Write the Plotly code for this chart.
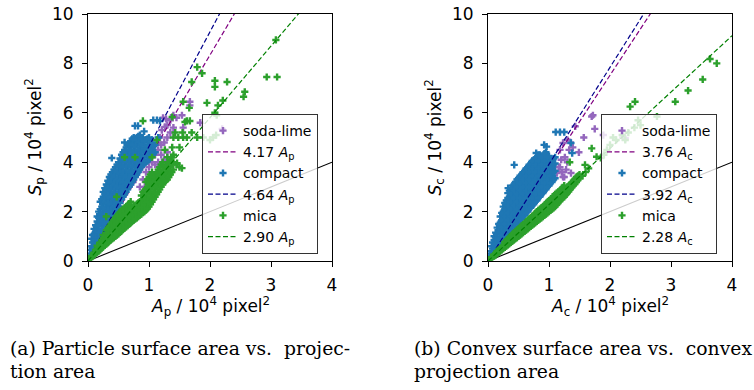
import plotly.graph_objects as go

W, H = 754, 390

# ---------------- data: panel (a) particle surface vs projection area ----------------
soda_a = [(0.74,3.2),(0.85,3.0),(0.93,3.0),(0.98,3.16),(0.9,3.3),(0.95,3.6),(1.0,3.8),(1.05,3.5),
          (1.05,4.0),(1.1,3.28),(1.1,3.9),(1.1,4.3),(1.15,3.55),(1.15,4.0),(1.15,4.5),(1.2,4.3),
          (1.2,4.7),(1.18,5.0),(1.13,4.78),(1.21,5.3),(1.26,5.43),(1.25,4.8),(1.3,5.0),(1.3,5.5),
          (1.35,5.2),(1.35,5.7),(1.4,5.9),(1.23,5.8),(1.28,5.75),(1.4,5.4),(1.45,5.8),(1.54,5.9),
          (1.56,5.4),(1.67,6.45),(1.67,6.3),(1.84,5.6),(2.2,5.35),(1.05,4.6),(1.3,4.4),(1.25,4.1),
          (1.0,2.9)]
compact_a = [(0.02,0.1),(0.03,0.2),(0.03,0.45),
             (0.06,0.3),(0.06,0.6),(0.06,0.9),
             (0.1,0.5),(0.1,0.8),(0.1,1.1),(0.1,1.3),
             (0.15,0.7),(0.15,1.0),(0.15,1.3),(0.15,1.6),(0.15,1.8),
             (0.2,0.9),(0.2,1.2),(0.2,1.5),(0.2,1.8),(0.2,2.1),(0.2,2.4),
             (0.25,1.1),(0.25,1.4),(0.25,1.7),(0.25,2.0),(0.25,2.3),(0.25,2.6),(0.25,2.8),
             (0.3,1.3),(0.3,1.6),(0.3,1.9),(0.3,2.2),(0.3,2.5),(0.3,2.8),(0.3,3.1),
             (0.35,1.6),(0.35,1.9),(0.35,2.2),(0.35,2.5),(0.35,2.8),(0.35,3.1),(0.35,3.4),
             (0.4,1.8),(0.4,2.1),(0.4,2.4),(0.4,2.7),(0.4,3.0),(0.4,3.3),(0.4,3.6),
             (0.45,2.0),(0.45,2.3),(0.45,2.6),(0.45,2.9),(0.45,3.2),(0.45,3.5),(0.45,3.8),
             (0.5,2.2),(0.5,2.5),(0.5,2.8),(0.5,3.1),(0.5,3.4),(0.5,3.7),(0.5,4.0),
             (0.55,2.5),(0.55,2.8),(0.55,3.1),(0.55,3.4),(0.55,3.7),(0.55,4.0),(0.55,4.3),
             (0.6,2.7),(0.6,3.0),(0.6,3.3),(0.6,3.6),(0.6,3.9),(0.6,4.2),(0.6,4.5),
             (0.65,2.9),(0.65,3.2),(0.65,3.5),(0.65,3.8),(0.65,4.1),(0.65,4.4),(0.65,4.7),
             (0.7,3.1),(0.7,3.4),(0.7,3.7),(0.7,4.0),(0.7,4.3),(0.7,4.6),(0.7,4.85),
             (0.75,3.3),(0.75,3.6),(0.75,3.9),(0.75,4.2),(0.75,4.5),(0.75,4.8),(0.75,5.0),
             (0.8,3.5),(0.8,3.8),(0.8,4.1),(0.8,4.4),(0.8,4.7),(0.8,5.0),
             (0.85,3.7),(0.85,4.0),(0.85,4.3),(0.85,4.6),(0.85,4.9),(0.85,5.1),
             (0.9,3.9),(0.9,4.2),(0.9,4.5),(0.9,4.8),(0.9,5.0),
             (0.95,4.0),(0.95,4.3),(0.95,4.6),(0.95,4.9),
             (1.0,4.1),(1.0,4.4),(1.0,4.7),(1.0,5.0),
             (1.05,4.3),(1.05,4.6),(1.05,4.9),
             (1.1,4.4),(1.1,4.7),
             (0.39,4.17),(0.6,4.8),(0.77,5.47),(0.82,5.47),(1.07,5.7),(1.13,5.7),(1.18,5.67),
             (0.92,5.25),(1.15,5.0)]
compact_a_fill = [(0.075,0.45),(0.075,0.75),(0.075,1.05),
                  (0.125,0.65),(0.125,0.95),(0.125,1.2),(0.125,1.45),
                  (0.175,0.85),(0.175,1.15),(0.175,1.45),(0.175,1.75),(0.175,2.0),
                  (0.225,1.0),(0.225,1.3),(0.225,1.6),(0.225,1.9),(0.225,2.2),(0.225,2.5),
                  (0.275,1.2),(0.275,1.5),(0.275,1.8),(0.275,2.1),(0.275,2.4),(0.275,2.7),(0.275,2.95),
                  (0.325,1.45),(0.325,1.75),(0.325,2.05),(0.325,2.35),(0.325,2.65),(0.325,2.95),(0.325,3.25),
                  (0.375,1.7),(0.375,2.0),(0.375,2.3),(0.375,2.6),(0.375,2.9),(0.375,3.2),(0.375,3.5),
                  (0.425,1.9),(0.425,2.2),(0.425,2.5),(0.425,2.8),(0.425,3.1),(0.425,3.4),(0.425,3.7),
                  (0.475,2.1),(0.475,2.4),(0.475,2.7),(0.475,3.0),(0.475,3.3),(0.475,3.6),(0.475,3.9),
                  (0.525,2.35),(0.525,2.65),(0.525,2.95),(0.525,3.25),(0.525,3.55),(0.525,3.85),(0.525,4.15),
                  (0.575,2.6),(0.575,2.9),(0.575,3.2),(0.575,3.5),(0.575,3.8),(0.575,4.1),(0.575,4.4),
                  (0.625,2.8),(0.625,3.1),(0.625,3.4),(0.625,3.7),(0.625,4.0),(0.625,4.3),(0.625,4.6),
                  (0.675,3.0),(0.675,3.3),(0.675,3.6),(0.675,3.9),(0.675,4.2),(0.675,4.5),(0.675,4.75),
                  (0.725,3.2),(0.725,3.5),(0.725,3.8),(0.725,4.1),(0.725,4.4),(0.725,4.7),(0.725,4.95),
                  (0.775,3.4),(0.775,3.7),(0.775,4.0),(0.775,4.3),(0.775,4.6),(0.775,4.9),
                  (0.825,3.6),(0.825,3.9),(0.825,4.2),(0.825,4.5),(0.825,4.8),(0.825,5.05),
                  (0.875,3.8),(0.875,4.1),(0.875,4.4),(0.875,4.7),(0.875,4.95),
                  (0.925,3.95),(0.925,4.25),(0.925,4.55),(0.925,4.85),
                  (0.975,4.05),(0.975,4.35),(0.975,4.65),(0.975,4.95),
                  (1.025,4.2),(1.025,4.5),(1.025,4.8),
                  (1.075,4.35),(1.075,4.65)]
mica_a = [(0.03,0.08),(0.05,0.12),(0.05,0.2),
          (0.1,0.25),(0.1,0.35),
          (0.15,0.35),(0.15,0.5),(0.15,0.62),
          (0.2,0.45),(0.2,0.6),(0.2,0.75),
          (0.25,0.58),(0.25,0.75),(0.25,0.92),(0.25,1.05),
          (0.3,0.68),(0.3,0.88),(0.3,1.08),(0.3,1.25),
          (0.35,0.8),(0.35,1.0),(0.35,1.2),(0.35,1.4),
          (0.4,0.9),(0.4,1.12),(0.4,1.35),(0.4,1.58),
          (0.45,1.0),(0.45,1.25),(0.45,1.5),(0.45,1.75),
          (0.5,1.1),(0.5,1.37),(0.5,1.64),(0.5,1.9),
          (0.55,1.22),(0.55,1.5),(0.55,1.78),(0.55,2.05),
          (0.6,1.33),(0.6,1.6),(0.6,1.88),(0.6,2.15),
          (0.65,1.43),(0.65,1.7),(0.65,1.97),(0.65,2.25),
          (0.7,1.55),(0.7,1.82),(0.7,2.1),(0.7,2.4),
          (0.75,1.65),(0.75,1.92),(0.75,2.2),
          (0.8,1.75),(0.8,2.02),(0.8,2.3),
          (0.85,1.86),(0.85,2.12),(0.85,2.4),
          (0.9,1.96),(0.9,2.22),(0.9,2.5),(0.9,2.8),
          (0.95,2.06),(0.95,2.32),(0.95,2.6),(0.95,2.9),(0.95,3.2),
          (1.0,2.2),(1.0,2.5),(1.0,2.8),(1.0,3.1),(1.0,3.4),
          (1.05,2.4),(1.05,2.7),(1.05,3.0),(1.05,3.3),(1.05,3.6),
          (1.1,2.6),(1.1,2.9),(1.1,3.2),(1.1,3.5),
          (1.15,2.8),(1.15,3.1),(1.15,3.4),(1.15,3.7),
          (1.2,3.0),(1.2,3.3),(1.2,3.6),(1.2,3.9),
          (1.25,3.2),(1.25,3.5),(1.25,3.8),
          (1.3,3.3),(1.3,3.6),(1.3,3.9),(1.3,4.2),
          (1.35,3.5),(1.35,3.8),(1.35,4.1),
          (1.4,3.7),(1.4,4.0),(1.4,4.3),
          (1.45,3.9),(1.46,3.96),(1.5,3.8),(1.54,3.76),
          (0.3,1.8),(0.47,2.6),(0.6,4.2),(0.77,4.2),(1.05,4.2),(1.26,4.5),(1.38,4.6),
          (0.9,5.67),(1.13,4.9),(1.4,5.0),(1.48,5.0),(1.56,5.0),(1.5,4.6),(1.62,5.0),(1.79,5.0),
          (1.89,5.0),(1.38,5.83),(1.59,5.63),(1.62,5.67),(1.67,5.67),(1.43,5.2),(1.55,5.2),
          (1.7,5.2),(1.56,6.45),(1.66,6.2),(1.7,7.25),(1.79,7.85),(1.87,7.6),(1.95,6.4),
          (2.08,7.3),(2.08,7.05),(2.13,6.3),(2.21,6.5),(2.28,7.25),(2.11,5.9),(2.57,6.85),
          (2.55,6.65),(2.93,7.45),(3.10,7.45),(3.08,8.95),(2.0,4.9),(2.05,5.0),(2.1,5.1),(2.08,6.0)]
mica_a_fill = [(0.125,0.3),(0.125,0.45),
               (0.175,0.4),(0.175,0.55),
               (0.225,0.52),(0.225,0.68),(0.225,0.85),
               (0.275,0.63),(0.275,0.82),(0.275,1.0),
               (0.325,0.74),(0.325,0.94),(0.325,1.14),(0.325,1.32),
               (0.375,0.85),(0.375,1.06),(0.375,1.28),(0.375,1.5),
               (0.425,0.95),(0.425,1.18),(0.425,1.42),(0.425,1.66),
               (0.475,1.05),(0.475,1.3),(0.475,1.57),(0.475,1.82),
               (0.525,1.16),(0.525,1.44),(0.525,1.71),(0.525,1.98),
               (0.575,1.28),(0.575,1.55),(0.575,1.83),(0.575,2.1),
               (0.625,1.38),(0.625,1.65),(0.625,1.92),(0.625,2.2),
               (0.675,1.49),(0.675,1.76),(0.675,2.03),(0.675,2.32),
               (0.725,1.6),(0.725,1.87),(0.725,2.15),
               (0.775,1.7),(0.775,1.97),(0.775,2.25),
               (0.825,1.8),(0.825,2.07),(0.825,2.35),
               (0.875,1.9),(0.875,2.17),(0.875,2.45),(0.875,2.65),
               (0.925,2.0),(0.925,2.27),(0.925,2.55),(0.925,2.85),
               (0.975,2.12),(0.975,2.4),(0.975,2.7),(0.975,3.0),(0.975,3.3),
               (1.025,2.3),(1.025,2.6),(1.025,2.9),(1.025,3.2),(1.025,3.5),
               (1.075,2.5),(1.075,2.8),(1.075,3.1),(1.075,3.4),
               (1.125,2.7),(1.125,3.0),(1.125,3.3),(1.125,3.6),
               (1.175,2.9),(1.175,3.2),(1.175,3.5),(1.175,3.8),
               (1.225,3.1),(1.225,3.4),(1.225,3.7),(1.225,4.0),
               (1.275,3.25),(1.275,3.55),(1.275,3.85),
               (1.325,3.4),(1.325,3.7),(1.325,4.0),
               (1.375,3.6),(1.375,3.9),(1.375,4.2)]

# ---------------- data: panel (b) convex surface vs convex projection area ----------------
soda_b = [(1.7,5.85),(1.72,5.9),(1.75,5.35),(1.89,5.1),(2.21,5.0),(2.25,4.97),(1.43,5.45),
          (1.16,3.8),(1.21,3.6),(1.25,3.4),(1.13,3.56),(1.23,3.4),(1.18,3.8),(1.49,4.4),
          (1.57,5.0),(1.18,4.5),(1.23,4.78),(1.3,4.9),(1.39,4.6),(1.26,4.2),(1.3,4.0),
          (1.33,4.5),(1.2,4.1),(1.28,3.7),(1.35,4.8),(1.36,3.56)]
compact_b = [(0.02,0.08),(0.03,0.15),(0.03,0.3),
             (0.06,0.2),(0.06,0.4),(0.06,0.6),
             (0.1,0.35),(0.1,0.6),(0.1,0.85),(0.1,1.0),
             (0.15,0.5),(0.15,0.8),(0.15,1.1),(0.15,1.35),
             (0.2,0.65),(0.2,0.95),(0.2,1.25),(0.2,1.55),(0.2,1.8),
             (0.25,0.8),(0.25,1.1),(0.25,1.4),(0.25,1.7),(0.25,2.0),(0.25,2.2),
             (0.3,0.95),(0.3,1.25),(0.3,1.55),(0.3,1.85),(0.3,2.15),(0.3,2.45),
             (0.35,1.1),(0.35,1.4),(0.35,1.7),(0.35,2.0),(0.35,2.3),(0.35,2.6),(0.35,2.85),
             (0.4,1.25),(0.4,1.55),(0.4,1.85),(0.4,2.15),(0.4,2.45),(0.4,2.75),(0.4,3.05),
             (0.45,1.4),(0.45,1.7),(0.45,2.0),(0.45,2.3),(0.45,2.6),(0.45,2.9),(0.45,3.2),
             (0.5,1.55),(0.5,1.85),(0.5,2.15),(0.5,2.45),(0.5,2.75),(0.5,3.05),(0.5,3.35),
             (0.55,1.7),(0.55,2.0),(0.55,2.3),(0.55,2.6),(0.55,2.9),(0.55,3.2),(0.55,3.5),
             (0.6,1.85),(0.6,2.15),(0.6,2.45),(0.6,2.75),(0.6,3.05),(0.6,3.35),(0.6,3.65),
             (0.65,2.0),(0.65,2.3),(0.65,2.6),(0.65,2.9),(0.65,3.2),(0.65,3.5),(0.65,3.8),
             (0.7,2.15),(0.7,2.45),(0.7,2.75),(0.7,3.05),(0.7,3.35),(0.7,3.65),(0.7,3.95),
             (0.75,2.3),(0.75,2.6),(0.75,2.9),(0.75,3.2),(0.75,3.5),(0.75,3.8),(0.75,4.1),
             (0.8,2.45),(0.8,2.75),(0.8,3.05),(0.8,3.35),(0.8,3.65),(0.8,3.95),(0.8,4.2),
             (0.85,2.6),(0.85,2.9),(0.85,3.2),(0.85,3.5),(0.85,3.8),(0.85,4.1),(0.85,4.3),
             (0.9,2.75),(0.9,3.05),(0.9,3.35),(0.9,3.65),(0.9,3.95),(0.9,4.25),
             (0.95,2.9),(0.95,3.2),(0.95,3.5),(0.95,3.8),(0.95,4.1),(0.95,4.4),
             (1.0,3.05),(1.0,3.35),(1.0,3.65),(1.0,3.95),(1.0,4.25),
             (1.05,3.2),(1.05,3.5),(1.05,3.8),(1.05,4.1),
             (1.1,3.35),(1.1,3.65),(1.1,3.95),(1.1,4.2),
             (0.43,3.89),(0.33,2.95),(0.79,4.37),(0.92,4.7),(0.96,4.63),(1.11,5.22),
             (1.18,5.22),(1.25,5.22),(1.36,4.78),(1.38,4.37)]
compact_b_fill = [(0.075,0.3),(0.075,0.5),(0.075,0.75),
                  (0.125,0.45),(0.125,0.7),(0.125,0.95),(0.125,1.15),
                  (0.175,0.6),(0.175,0.9),(0.175,1.2),(0.175,1.5),
                  (0.225,0.75),(0.225,1.05),(0.225,1.35),(0.225,1.65),(0.225,1.95),
                  (0.275,0.9),(0.275,1.2),(0.275,1.5),(0.275,1.8),(0.275,2.1),(0.275,2.35),
                  (0.325,1.05),(0.325,1.35),(0.325,1.65),(0.325,1.95),(0.325,2.25),(0.325,2.55),(0.325,2.75),
                  (0.375,1.2),(0.375,1.5),(0.375,1.8),(0.375,2.1),(0.375,2.4),(0.375,2.7),(0.375,2.95),
                  (0.425,1.35),(0.425,1.65),(0.425,1.95),(0.425,2.25),(0.425,2.55),(0.425,2.85),(0.425,3.1),
                  (0.475,1.5),(0.475,1.8),(0.475,2.1),(0.475,2.4),(0.475,2.7),(0.475,3.0),(0.475,3.3),
                  (0.525,1.65),(0.525,1.95),(0.525,2.25),(0.525,2.55),(0.525,2.85),(0.525,3.15),(0.525,3.45),
                  (0.575,1.8),(0.575,2.1),(0.575,2.4),(0.575,2.7),(0.575,3.0),(0.575,3.3),(0.575,3.6),
                  (0.625,1.95),(0.625,2.25),(0.625,2.55),(0.625,2.85),(0.625,3.15),(0.625,3.45),(0.625,3.75),
                  (0.675,2.1),(0.675,2.4),(0.675,2.7),(0.675,3.0),(0.675,3.3),(0.675,3.6),(0.675,3.9),
                  (0.725,2.25),(0.725,2.55),(0.725,2.85),(0.725,3.15),(0.725,3.45),(0.725,3.75),(0.725,4.05),
                  (0.775,2.4),(0.775,2.7),(0.775,3.0),(0.775,3.3),(0.775,3.6),(0.775,3.9),(0.775,4.15),
                  (0.825,2.55),(0.825,2.85),(0.825,3.15),(0.825,3.45),(0.825,3.75),(0.825,4.05),(0.825,4.3),
                  (0.875,2.7),(0.875,3.0),(0.875,3.3),(0.875,3.6),(0.875,3.9),(0.875,4.2),
                  (0.925,2.85),(0.925,3.15),(0.925,3.45),(0.925,3.75),(0.925,4.05),(0.925,4.35),
                  (0.975,3.0),(0.975,3.3),(0.975,3.6),(0.975,3.9),(0.975,4.2),
                  (1.025,3.15),(1.025,3.45),(1.025,3.75),(1.025,4.05),
                  (1.075,3.3),(1.075,3.6),(1.075,3.9),(1.075,4.15)]
mica_b = [(0.03,0.06),(0.05,0.1),(0.05,0.15),
          (0.1,0.2),(0.1,0.27),
          (0.15,0.3),(0.15,0.4),
          (0.2,0.4),(0.2,0.5),
          (0.25,0.5),(0.25,0.62),
          (0.3,0.6),(0.3,0.72),(0.3,0.82),
          (0.35,0.7),(0.35,0.83),(0.35,0.95),
          (0.4,0.8),(0.4,0.94),(0.4,1.08),
          (0.45,0.9),(0.45,1.05),(0.45,1.2),
          (0.5,1.0),(0.5,1.15),(0.5,1.3),
          (0.55,1.1),(0.55,1.25),(0.55,1.42),
          (0.6,1.2),(0.6,1.36),(0.6,1.52),
          (0.65,1.3),(0.65,1.47),(0.65,1.64),
          (0.7,1.4),(0.7,1.58),(0.7,1.76),
          (0.75,1.5),(0.75,1.68),(0.75,1.86),
          (0.8,1.6),(0.8,1.8),(0.8,2.0),
          (0.85,1.7),(0.85,1.9),(0.85,2.1),
          (0.9,1.8),(0.9,2.0),(0.9,2.2),
          (0.95,1.9),(0.95,2.1),(0.95,2.32),
          (1.0,2.0),(1.0,2.2),(1.0,2.45),
          (1.05,2.1),(1.05,2.32),(1.05,2.55),
          (1.1,2.2),(1.1,2.45),(1.1,2.7),
          (1.15,2.35),(1.15,2.58),(1.15,2.8),
          (1.2,2.5),(1.2,2.7),(1.2,2.9),
          (1.25,2.6),(1.25,2.85),(1.25,3.05),
          (1.3,2.75),(1.3,3.0),
          (1.35,2.9),(1.35,3.1),
          (1.4,3.05),(1.4,3.25),
          (1.45,3.2),(1.45,3.4),
          (1.5,3.35),(1.5,3.5),
          (1.6,3.6),(1.65,3.75),
          (1.34,4.0),(1.59,3.89),(1.7,4.56),(1.78,4.22),(1.85,4.17),(1.9,4.3),(1.95,4.5),
          (2.0,4.7),(2.1,4.9),(2.2,5.1),(2.3,5.2),(2.4,5.4),(2.5,5.5),(2.05,5.0),(2.25,4.9),
          (2.33,6.25),(2.41,6.45),(2.46,5.7),(2.77,5.85),(3.07,6.45),(3.28,6.9),(3.52,7.35),
          (3.64,8.18),(3.75,8.0)]
mica_b_fill = [(0.125,0.24),(0.125,0.32),
               (0.175,0.35),(0.175,0.45),
               (0.225,0.45),(0.225,0.56),
               (0.275,0.55),(0.275,0.67),(0.275,0.77),
               (0.325,0.65),(0.325,0.78),(0.325,0.88),
               (0.375,0.75),(0.375,0.88),(0.375,1.01),
               (0.425,0.85),(0.425,1.0),(0.425,1.14),
               (0.475,0.95),(0.475,1.1),(0.475,1.25),
               (0.525,1.05),(0.525,1.2),(0.525,1.36),
               (0.575,1.15),(0.575,1.3),(0.575,1.47),
               (0.625,1.25),(0.625,1.42),(0.625,1.58),
               (0.675,1.35),(0.675,1.52),(0.675,1.7),
               (0.725,1.45),(0.725,1.63),(0.725,1.81),
               (0.775,1.55),(0.775,1.74),(0.775,1.93),
               (0.825,1.65),(0.825,1.85),(0.825,2.05),
               (0.875,1.75),(0.875,1.95),(0.875,2.15),
               (0.925,1.85),(0.925,2.05),(0.925,2.26),
               (0.975,1.95),(0.975,2.15),(0.975,2.38),
               (1.025,2.05),(1.025,2.26),(1.025,2.5),
               (1.075,2.15),(1.075,2.38),(1.075,2.62),
               (1.125,2.28),(1.125,2.5),(1.125,2.75),
               (1.175,2.42),(1.175,2.64),(1.175,2.85),
               (1.225,2.55),(1.225,2.78),(1.225,2.98),
               (1.275,2.68),(1.275,2.92),
               (1.325,2.82),(1.325,3.05),
               (1.375,2.98),(1.375,3.18),
               (1.425,3.12),(1.425,3.32),
               (1.475,3.28),(1.475,3.45),
               (1.55,3.45)]

# fitted slopes (from legend) and the reference slope S = A
slopes_a = [4.17, 4.64, 2.90]
slopes_b = [3.76, 3.92, 2.28]
ref_slope = 1.0
x_range = [0, 4]
y_range = [0, 10]
x_ticks = [0, 1, 2, 3, 4]
y_ticks = [0, 2, 4, 6, 8, 10]

series_names = ["soda-lime", "compact", "mica"]
scatter_colors = ["#9467bd", "#1f77b4", "#2ca02c"]
line_colors = ["#800080", "#00008b", "#008000"]

FONT = "DejaVu Sans"

fig = go.Figure()


def add_panel(data_sets, slopes, sub, xa, ya, legend_name):
    # reference line S = A
    fig.add_trace(go.Scatter(x=x_range, y=[ref_slope * v for v in x_range], mode="lines",
                             line=dict(color="black", width=1.1), showlegend=False,
                             xaxis=xa, yaxis=ya, hoverinfo="skip"))
    for pts, name, sc, lc, k in zip(data_sets, series_names, scatter_colors, line_colors, slopes):
        xs = [p[0] for p in pts]
        ys = [p[1] for p in pts]
        fig.add_trace(go.Scatter(x=xs, y=ys, mode="markers", name=name,
                                 marker=dict(symbol="cross", size=6, color=sc, line=dict(width=0)),
                                 xaxis=xa, yaxis=ya, legend=legend_name))
        fig.add_trace(go.Scatter(x=x_range, y=[k * v for v in x_range], mode="lines",
                                 name=f"{k:.2f} <i>A</i><sub>{sub}</sub>",
                                 line=dict(color=lc, width=1.2, dash="5px,2.5px"),
                                 xaxis=xa, yaxis=ya, legend=legend_name))


add_panel([soda_a, compact_a + compact_a_fill, mica_a + mica_a_fill], slopes_a, "p", "x", "y", "legend")
add_panel([soda_b, compact_b + compact_b_fill, mica_b + mica_b_fill], slopes_b, "c", "x2", "y2", "legend2")

ydom = [1 - 261 / H, 1 - 14 / H]
axis_common = dict(showline=True, mirror=True, linecolor="black", linewidth=1,
                   ticks="outside", ticklen=5, tickwidth=1, tickcolor="black",
                   showgrid=False, zeroline=False, automargin=False,
                   tickfont=dict(family=FONT, size=17, color="black"))
legend_common = dict(xanchor="left", yanchor="bottom", y=1 - 254 / H,
                     bgcolor="rgba(255,255,255,0.8)", bordercolor="#333333", borderwidth=1,
                     font=dict(family=FONT, size=14, color="black"), itemwidth=30,
                     tracegroupgap=0)
fig.update_layout(
    width=W, height=H, margin=dict(l=0, r=0, t=0, b=0, autoexpand=False),
    paper_bgcolor="white", plot_bgcolor="white",
    xaxis=dict(domain=[88 / W, 332 / W], range=x_range, tickvals=x_ticks, anchor="y",
               ticklabelstandoff=4, **axis_common),
    yaxis=dict(domain=ydom, range=y_range, tickvals=y_ticks, anchor="x",
               ticklabelstandoff=5, **axis_common),
    xaxis2=dict(domain=[488 / W, 732 / W], range=x_range, tickvals=x_ticks, anchor="y2",
                ticklabelstandoff=4, **axis_common),
    yaxis2=dict(domain=ydom, range=y_range, tickvals=y_ticks, anchor="x2",
                ticklabelstandoff=5, **axis_common),
    legend=dict(x=202 / W, **legend_common),
    legend2=dict(x=601 / W, **legend_common),
    showlegend=True,
)

ann = []
# axis titles
for cx, sub in [(35, "p"), (435, "c")]:
    ann.append(dict(x=cx / W, y=1 - 137.5 / H, xref="paper", yref="paper", showarrow=False,
                    textangle=-90, xanchor="center", yanchor="middle",
                    text=f"<i>S</i><sub>{sub}</sub> / 10<sup>4</sup> pixel<sup>2</sup>",
                    font=dict(family=FONT, size=17, color="black")))
for cx, sub in [(210, "p"), (610, "c")]:
    ann.append(dict(x=cx / W, y=1 - 306 / H, xref="paper", yref="paper", showarrow=False,
                    xanchor="center", yanchor="middle",
                    text=f"<i>A</i><sub>{sub}</sub> / 10<sup>4</sup> pixel<sup>2</sup>",
                    font=dict(family=FONT, size=17, color="black")))
# captions
captions = [
    (8, 348, "(a) Particle surface area vs.&nbsp;&nbsp;projec-"),
    (8, 371, "tion area"),
    (412, 348, "(b) Convex surface area vs.&nbsp;&nbsp;convex"),
    (412, 371, "projection area"),
]
for cx, cy, t in captions:
    ann.append(dict(x=cx / W, y=1 - cy / H, xref="paper", yref="paper", showarrow=False,
                    xanchor="left", yanchor="middle", text=t,
                    font=dict(family="DejaVu Serif", size=18.8, color="black")))
fig.update_layout(annotations=ann)

fig.write_html("out.html", config={"displayModeBar": False},
               post_script="document.body.style.margin='0px';document.body.style.overflow='hidden';")
